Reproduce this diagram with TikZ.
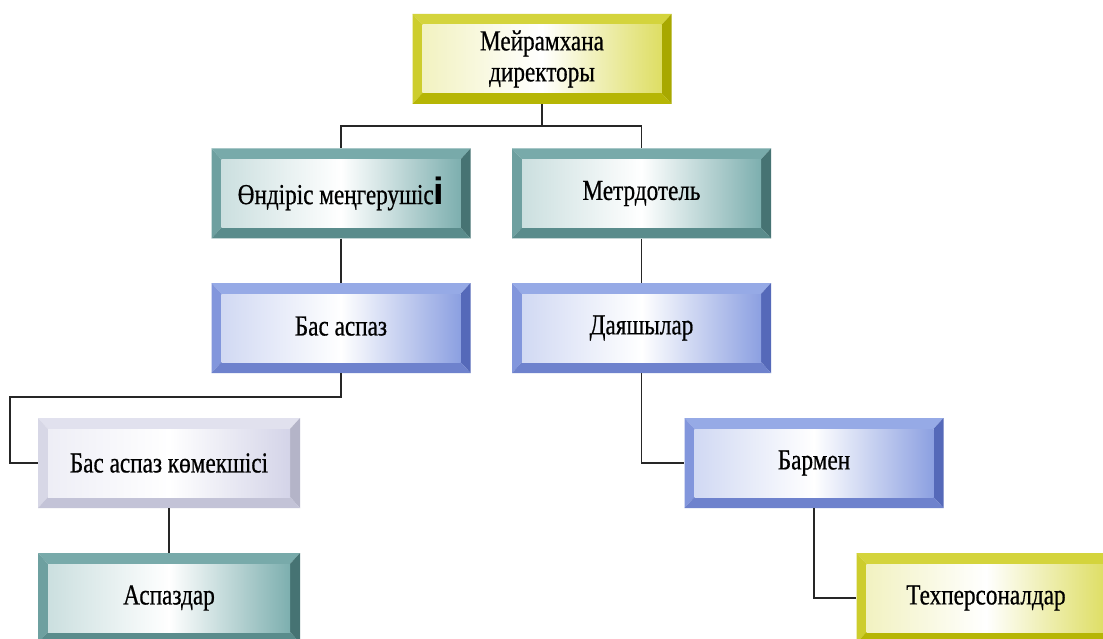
\documentclass[tikz,border=0pt]{standalone}
\usepackage{fontspec}
\newfontfamily\kzfont[FakeStretch=0.8,FakeBold=0.6]{Liberation Serif}
\newfontfamily\kzsans{Liberation Sans}
\definecolor{YT}{RGB}{212,212,60}\definecolor{YL}{RGB}{205,205,45}\definecolor{YR}{RGB}{168,168,0}\definecolor{YB}{RGB}{182,182,5}\definecolor{YI}{RGB}{222,222,100}
\definecolor{TT}{RGB}{120,170,170}\definecolor{TL}{RGB}{110,160,160}\definecolor{TR}{RGB}{70,115,115}\definecolor{TB}{RGB}{90,140,140}\definecolor{TI}{RGB}{125,175,175}
\definecolor{BT}{RGB}{150,170,230}\definecolor{BL}{RGB}{130,150,220}\definecolor{BR}{RGB}{85,105,185}\definecolor{BB}{RGB}{110,130,205}\definecolor{BI}{RGB}{140,160,225}
\definecolor{LT}{RGB}{225,225,238}\definecolor{LL}{RGB}{215,215,230}\definecolor{LR}{RGB}{180,180,200}\definecolor{LB}{RGB}{195,195,215}\definecolor{LI}{RGB}{212,212,232}
\tikzset{
 bev/.style n args={5}{minimum width=259pt, minimum height=90pt, inner sep=0pt, align=center,
  font={\kzfont\fontsize{29}{31}\selectfont},
  path picture={
   \coordinate (nw) at (path picture bounding box.north west);
   \coordinate (ne) at (path picture bounding box.north east);
   \coordinate (sw) at (path picture bounding box.south west);
   \coordinate (se) at (path picture bounding box.south east);
   \coordinate (inw) at ([shift={(10pt,-11pt)}]nw);
   \coordinate (ine) at ([shift={(-10pt,-11pt)}]ne);
   \coordinate (isw) at ([shift={(10pt,11pt)}]sw);
   \coordinate (ise) at ([shift={(-10pt,11pt)}]se);
   \fill[#1] (nw) -- (ne) -- (ine) -- (inw) -- cycle;
   \fill[#2] (nw) -- (inw) -- (isw) -- (sw) -- cycle;
   \fill[#3] (ne) -- (ine) -- (ise) -- (se) -- cycle;
   \fill[#4] (sw) -- (isw) -- (ise) -- (se) -- cycle;
   \shade[left color=#5!40!white, right color=#5, middle color=white] (inw) rectangle (ise);
  }},
 yel/.style={bev={YT}{YL}{YR}{YB}{YI}},
 teal/.style={bev={TT}{TL}{TR}{TB}{TI}},
 blu/.style={bev={BT}{BL}{BR}{BB}{BI}},
 lav/.style={bev={LT}{LL}{LR}{LB}{LI}},
 conn/.style={draw=black!85, line width=1.3pt}
}
\newcommand{\up}[1]{\raisebox{4pt}{#1}}
\begin{document}
\begin{tikzpicture}[x=1pt,y=-1pt]
\useasboundingbox[fill=white] (0,0) rectangle (1103,639);
\node[yel]  (dir)  at (542,59)   {Мейрамхана\\директоры};
\node[teal] (ond)  at (341,193.5) {\up{Өндіріс меңгерушіс{\kzsans\bfseries\fontsize{38}{38}\selectfont і}}};
\node[teal] (met)  at (641.5,193.5) {\up{Метрдотель}};
\node[blu]  (bas)  at (341,328)  {\up{Бас аспаз}};
\node[blu]  (day)  at (641.5,328) {\up{Даяшылар}};
\node[lav, minimum width=262pt]  (kom)  at (169,463) {Бас аспаз көмекшісі};
\node[blu]  (bar)  at (814,463)  {\up{Бармен}};
\node[teal, minimum width=262pt] (asp)  at (169,598) {\up{Аспаздар}};
\node[yel]  (tech) at (986,598)  {\up{Техперсоналдар}};
\coordinate (j1) at (542,126);
\coordinate (k1) at (10,397);
\draw[conn] (dir.south) -- (j1);
\draw[conn] (j1) -| (ond.north);
\draw[conn] (j1) -| (met.north);
\draw[conn] (ond.south) -- (bas.north);
\draw[conn] (met.south) -- (day.north);
\draw[conn] (bas.south) |- (k1) |- (kom.west);
\draw[conn] (day.south) |- (bar.west);
\draw[conn] (kom.south) -- (asp.north);
\draw[conn] (bar.south) |- (tech.west);
\end{tikzpicture}
\end{document}
